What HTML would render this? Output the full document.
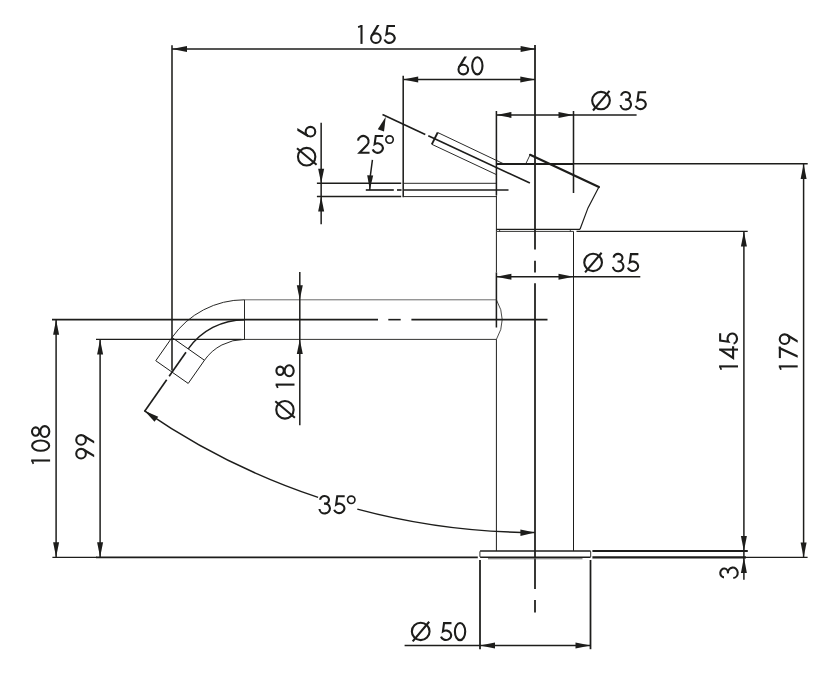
<!DOCTYPE html>
<html><head><meta charset="utf-8"><title>Drawing</title>
<style>
html,body{margin:0;padding:0;background:#fff;font-family:"Liberation Sans",sans-serif;}
svg{display:block;}
</style></head>
<body>
<svg width="822" height="678" viewBox="0 0 822 678">
<line x1="535" y1="45" x2="535" y2="249.6" stroke="#1d1d1b" stroke-width="1.76" stroke-linecap="butt"/>
<line x1="535" y1="260.8" x2="535" y2="272.6" stroke="#1d1d1b" stroke-width="1.76" stroke-linecap="butt"/>
<line x1="535" y1="283.2" x2="535" y2="589" stroke="#1d1d1b" stroke-width="1.76" stroke-linecap="butt"/>
<line x1="535" y1="600.1" x2="535" y2="612.4" stroke="#1d1d1b" stroke-width="1.76" stroke-linecap="butt"/>
<line x1="172" y1="48.9" x2="535.6" y2="48.9" stroke="#1d1d1b" stroke-width="1.49" stroke-linecap="butt"/>
<polygon points="172,48.9 187,45.9 187,51.9" fill="#1d1d1b"/>
<polygon points="535.6,48.9 520.6,51.9 520.6,45.9" fill="#1d1d1b"/>
<line x1="172" y1="45.3" x2="172" y2="370.5" stroke="#1d1d1b" stroke-width="1.54" stroke-linecap="butt"/>
<line x1="403.2" y1="79.5" x2="535" y2="79.5" stroke="#1d1d1b" stroke-width="1.49" stroke-linecap="butt"/>
<polygon points="403.2,79.5 418.2,76.5 418.2,82.5" fill="#1d1d1b"/>
<polygon points="535.3,79.5 520.3,82.5 520.3,76.5" fill="#1d1d1b"/>
<line x1="403.2" y1="75.8" x2="403.2" y2="197.2" stroke="#1d1d1b" stroke-width="1.54" stroke-linecap="butt"/>
<line x1="496.4" y1="114.9" x2="636.6" y2="114.9" stroke="#1d1d1b" stroke-width="1.49" stroke-linecap="butt"/>
<polygon points="496.4,114.9 511.4,111.9 511.4,117.9" fill="#1d1d1b"/>
<polygon points="573.5,114.9 558.5,117.9 558.5,111.9" fill="#1d1d1b"/>
<line x1="573.5" y1="111" x2="573.5" y2="193" stroke="#1d1d1b" stroke-width="1.54" stroke-linecap="butt"/>
<line x1="496.4" y1="111" x2="496.4" y2="195.4" stroke="#1d1d1b" stroke-width="1.54" stroke-linecap="butt"/>
<line x1="496.4" y1="195.4" x2="496.4" y2="231.3" stroke="#1d1d1b" stroke-width="1" stroke-linecap="butt"/>
<line x1="496.4" y1="164" x2="573.5" y2="164" stroke="#1d1d1b" stroke-width="1.87" stroke-linecap="butt"/>
<line x1="573.5" y1="163.8" x2="807.7" y2="163.8" stroke="#1d1d1b" stroke-width="1.49" stroke-linecap="butt"/>
<line x1="530.1" y1="154.8" x2="598.9" y2="187" stroke="#1d1d1b" stroke-width="2.2" stroke-linecap="round"/>
<line x1="525.7" y1="164" x2="530.1" y2="154.8" stroke="#1d1d1b" stroke-width="0.9" stroke-linecap="butt"/>
<path d="M598.9,187 L588,207.9 L580,229.3" fill="none" stroke="#1d1d1b" stroke-width="1.19"/>
<line x1="496.4" y1="229.3" x2="580" y2="229.3" stroke="#1d1d1b" stroke-width="1.32" stroke-linecap="butt"/>
<line x1="496.4" y1="231.4" x2="573.5" y2="231.4" stroke="#1d1d1b" stroke-width="0.9" stroke-linecap="butt"/>
<line x1="576.5" y1="231.4" x2="747.7" y2="231.4" stroke="#1d1d1b" stroke-width="1.43" stroke-linecap="butt"/>
<line x1="382.5" y1="114.45" x2="425.29" y2="134.38" stroke="#1d1d1b" stroke-width="1.65" stroke-linecap="butt"/>
<line x1="428.28" y1="135.77" x2="529.9" y2="183.1" stroke="#1d1d1b" stroke-width="1.65" stroke-linecap="butt"/>
<line x1="437.7" y1="132.5" x2="431.8" y2="144.3" stroke="#1d1d1b" stroke-width="1.87" stroke-linecap="butt"/>
<line x1="437.7" y1="132.5" x2="504" y2="164" stroke="#1d1d1b" stroke-width="0.95" stroke-linecap="butt"/>
<line x1="431.8" y1="144.3" x2="496.4" y2="174.6" stroke="#1d1d1b" stroke-width="0.95" stroke-linecap="butt"/>
<line x1="404" y1="183.3" x2="496.4" y2="183.3" stroke="#1d1d1b" stroke-width="0.95" stroke-linecap="butt"/>
<line x1="404" y1="196.6" x2="496.4" y2="196.6" stroke="#1d1d1b" stroke-width="0.95" stroke-linecap="butt"/>
<line x1="365.8" y1="190" x2="393.8" y2="190" stroke="#1d1d1b" stroke-width="1.65" stroke-linecap="butt"/>
<line x1="397" y1="190" x2="401.5" y2="190" stroke="#1d1d1b" stroke-width="1.65" stroke-linecap="butt"/>
<line x1="404" y1="190" x2="508.5" y2="190" stroke="#1d1d1b" stroke-width="1.65" stroke-linecap="butt"/>
<line x1="321.15" y1="122.7" x2="321.15" y2="224.2" stroke="#1d1d1b" stroke-width="1.49" stroke-linecap="butt"/>
<polygon points="321.15,183.3 318.15,168.8 324.15,168.8" fill="#1d1d1b"/>
<polygon points="321.15,196.6 324.15,211.6 318.15,211.6" fill="#1d1d1b"/>
<line x1="316.9" y1="183.3" x2="401.2" y2="183.3" stroke="#1d1d1b" stroke-width="1.49" stroke-linecap="butt"/>
<line x1="316.9" y1="196.6" x2="401.2" y2="196.6" stroke="#1d1d1b" stroke-width="1.49" stroke-linecap="butt"/>
<path d="M369.8,190 A175.9,175.9 0 0 1 372.42,159.76" fill="none" stroke="#1d1d1b" stroke-width="1.49"/>
<polygon points="369.8,189.8 367.18,175.23 373.18,175.38" fill="#1d1d1b"/>
<polygon points="385.77,116.78 384.01,131.54 377.79,129.33" fill="#1d1d1b"/>
<line x1="496.4" y1="231.4" x2="496.4" y2="272.4" stroke="#1d1d1b" stroke-width="1" stroke-linecap="butt"/>
<line x1="496.4" y1="272.4" x2="496.4" y2="327.5" stroke="#1d1d1b" stroke-width="1.54" stroke-linecap="butt"/>
<line x1="496.4" y1="339.3" x2="496.4" y2="551" stroke="#1d1d1b" stroke-width="1" stroke-linecap="butt"/>
<line x1="573.5" y1="231.4" x2="573.5" y2="551" stroke="#1d1d1b" stroke-width="1" stroke-linecap="butt"/>
<line x1="496.4" y1="276.7" x2="640.3" y2="276.7" stroke="#1d1d1b" stroke-width="1.49" stroke-linecap="butt"/>
<polygon points="496.4,276.7 511.4,273.7 511.4,279.7" fill="#1d1d1b"/>
<polygon points="573.5,276.7 558.5,279.7 558.5,273.7" fill="#1d1d1b"/>
<line x1="244.5" y1="299.8" x2="496.4" y2="299.8" stroke="#444" stroke-width="0.8" stroke-linecap="butt"/>
<line x1="241.6" y1="339.4" x2="496.4" y2="339.4" stroke="#1d1d1b" stroke-width="0.9" stroke-linecap="butt"/>
<path d="M496.4,299.8 Q508,319.6 496.4,339.4" fill="none" stroke="#1d1d1b" stroke-width="0.8"/>
<line x1="244.5" y1="299.8" x2="244.5" y2="339.4" stroke="#1d1d1b" stroke-width="0.95" stroke-linecap="butt"/>
<line x1="52" y1="319.65" x2="378" y2="319.65" stroke="#1d1d1b" stroke-width="1.59" stroke-linecap="butt"/>
<line x1="388.3" y1="319.65" x2="400.7" y2="319.65" stroke="#1d1d1b" stroke-width="1.59" stroke-linecap="butt"/>
<line x1="411.4" y1="319.65" x2="547.5" y2="319.65" stroke="#1d1d1b" stroke-width="1.59" stroke-linecap="butt"/>
<line x1="96" y1="339.4" x2="241.6" y2="339.4" stroke="#1d1d1b" stroke-width="1.43" stroke-linecap="butt"/>
<line x1="299.8" y1="272" x2="299.8" y2="425.2" stroke="#1d1d1b" stroke-width="1.49" stroke-linecap="butt"/>
<polygon points="299.8,299.8 296.8,285.2 302.8,285.2" fill="#1d1d1b"/>
<polygon points="299.8,339.4 302.8,354 296.8,354" fill="#1d1d1b"/>
<path d="M244.5,299.8 A88.5,88.5 0 0 0 172.01,337.54" fill="none" stroke="#1d1d1b" stroke-width="0.95"/>
<path d="M244.5,319.65 A68.65,68.65 0 0 0 188.27,348.92" fill="none" stroke="#1d1d1b" stroke-width="1.49"/>
<path d="M244.5,339.4 A48.9,48.9 0 0 0 204.44,360.25" fill="none" stroke="#1d1d1b" stroke-width="0.95"/>
<path d="M172.01,337.54 L204.44,360.25 L188.21,383.43 L155.77,360.72 Z" fill="none" stroke="#1d1d1b" stroke-width="1"/>
<line x1="185.97" y1="352.2" x2="169.17" y2="376.2" stroke="#1d1d1b" stroke-width="1.65" stroke-linecap="butt"/>
<line x1="166.7" y1="379.72" x2="144.5" y2="411.43" stroke="#1d1d1b" stroke-width="1.65" stroke-linecap="butt"/>
<path d="M144.5,410.77 A687.2,687.2 0 0 0 318.1,497.37" fill="none" stroke="#1d1d1b" stroke-width="1.49"/>
<path d="M357.3,509.13 A687.2,687.2 0 0 0 535,532.5" fill="none" stroke="#1d1d1b" stroke-width="1.49"/>
<polygon points="535,532.5 520.46,535.95 520.35,529.56" fill="#1d1d1b"/>
<polygon points="144.5,410.77 158.24,416.67 154.51,421.87" fill="#1d1d1b"/>
<line x1="480.2" y1="551" x2="590.4" y2="551" stroke="#1d1d1b" stroke-width="1.59" stroke-linecap="butt"/>
<line x1="480.2" y1="557.2" x2="590.4" y2="557.2" stroke="#1d1d1b" stroke-width="1.59" stroke-linecap="butt"/>
<path d="M480.6,551 Q479.9,551 479.9,551.8 L479.9,556.4 Q479.9,557.2 480.6,557.2" fill="none" stroke="#1d1d1b" stroke-width="0.9"/>
<path d="M590,551 Q590.7,551 590.7,551.8 L590.7,556.4 Q590.7,557.2 590,557.2" fill="none" stroke="#1d1d1b" stroke-width="0.9"/>
<line x1="499.6" y1="229.3" x2="499.6" y2="231.4" stroke="#1d1d1b" stroke-width="0.8" stroke-linecap="butt"/>
<line x1="570.3" y1="229.3" x2="570.3" y2="231.4" stroke="#1d1d1b" stroke-width="0.8" stroke-linecap="butt"/>
<line x1="488" y1="558.7" x2="582.5" y2="558.7" stroke="#666" stroke-width="1.1" stroke-linecap="butt"/>
<line x1="52.4" y1="557.4" x2="97" y2="557.4" stroke="#1d1d1b" stroke-width="1.38" stroke-linecap="butt"/>
<line x1="96" y1="557.4" x2="477.8" y2="557.4" stroke="#1d1d1b" stroke-width="1.87" stroke-linecap="butt"/>
<line x1="592.4" y1="551" x2="747.8" y2="551" stroke="#1d1d1b" stroke-width="1.76" stroke-linecap="butt"/>
<line x1="592.4" y1="557.4" x2="746" y2="557.4" stroke="#1d1d1b" stroke-width="2.2" stroke-linecap="butt"/>
<line x1="746" y1="557.4" x2="807.6" y2="557.4" stroke="#1d1d1b" stroke-width="1.43" stroke-linecap="butt"/>
<line x1="480" y1="560" x2="480" y2="649.2" stroke="#1d1d1b" stroke-width="1.76" stroke-linecap="butt"/>
<line x1="590.5" y1="560" x2="590.5" y2="649.2" stroke="#1d1d1b" stroke-width="1.76" stroke-linecap="butt"/>
<line x1="404.6" y1="645.5" x2="590.5" y2="645.5" stroke="#1d1d1b" stroke-width="1.49" stroke-linecap="butt"/>
<polygon points="480,645.5 495,642.5 495,648.5" fill="#1d1d1b"/>
<polygon points="590.5,645.5 575.5,648.5 575.5,642.5" fill="#1d1d1b"/>
<line x1="56.1" y1="319.65" x2="56.1" y2="557.3" stroke="#1d1d1b" stroke-width="1.49" stroke-linecap="butt"/>
<polygon points="56.1,319.65 59.1,334.65 53.1,334.65" fill="#1d1d1b"/>
<polygon points="56.1,557.3 53.1,542.3 59.1,542.3" fill="#1d1d1b"/>
<line x1="100.1" y1="339.4" x2="100.1" y2="557.3" stroke="#1d1d1b" stroke-width="1.49" stroke-linecap="butt"/>
<polygon points="100.1,339.4 103.1,354.4 97.1,354.4" fill="#1d1d1b"/>
<polygon points="100.1,557.3 97.1,542.3 103.1,542.3" fill="#1d1d1b"/>
<line x1="743.9" y1="231.4" x2="743.9" y2="579.7" stroke="#1d1d1b" stroke-width="1.49" stroke-linecap="butt"/>
<polygon points="743.9,231.4 746.9,246.4 740.9,246.4" fill="#1d1d1b"/>
<polygon points="743.9,551 740.9,536 746.9,536" fill="#1d1d1b"/>
<polygon points="743.9,557.4 746.9,572.9 740.9,572.9" fill="#1d1d1b"/>
<line x1="803.6" y1="164" x2="803.6" y2="557.4" stroke="#1d1d1b" stroke-width="1.49" stroke-linecap="butt"/>
<polygon points="803.6,164 806.6,179 800.6,179" fill="#1d1d1b"/>
<polygon points="803.6,557.4 800.6,542.4 806.6,542.4" fill="#1d1d1b"/>
<g transform="translate(357.3 43.9) rotate(0)" fill="none" stroke="#1d1d1b" stroke-width="2.1" stroke-linecap="butt">
<g transform="translate(0 0)"><path d="M0.8,-16.75 L4.2,-18.0" stroke-width="1.7"/><path d="M4.2,-18.9 L4.2,0"/></g>
<g transform="translate(12.8 0)"><polygon points="6.78,-18.9 9.42,-18.9 3.01,-8.22 0.36,-8.22" fill="#1d1d1b" stroke="none"/><circle cx="5.8" cy="-5.75" r="4.8"/></g>
<g transform="translate(26 0)"><path d="M11.7,-17.85 L4.25,-17.85 L3.15,-9.6 A5.2,4.75 0 1 1 1.2,-4.4" stroke-linejoin="miter"/></g>
</g>
<g transform="translate(457.5 75.3) rotate(0)" fill="none" stroke="#1d1d1b" stroke-width="2.1" stroke-linecap="butt">
<g transform="translate(0 0)"><polygon points="6.78,-18.9 9.42,-18.9 3.01,-8.22 0.36,-8.22" fill="#1d1d1b" stroke="none"/><circle cx="5.8" cy="-5.75" r="4.8"/></g>
<g transform="translate(13.7 0)"><ellipse cx="6.15" cy="-9.45" rx="5.15" ry="8.55"/></g>
</g>
<g transform="translate(591.1 110.1) rotate(0)" fill="none" stroke="#1d1d1b" stroke-width="2.1" stroke-linecap="butt">
<g transform="translate(0 0)"><ellipse cx="9.9" cy="-9.55" rx="8.85" ry="8.7"/><path d="M1.9,0.4 L18.4,-19.2"/></g>
<g transform="translate(28.7 0)"><path d="M1.45,-14.4 A4.4,3.85 0 1 1 5.4,-10.45 A5.25,4.9 0 1 1 0.75,-5.1" stroke-linejoin="miter"/></g>
<g transform="translate(43.3 0)"><path d="M11.7,-17.85 L4.25,-17.85 L3.15,-9.6 A5.2,4.75 0 1 1 1.2,-4.4" stroke-linejoin="miter"/></g>
</g>
<g transform="translate(583.2 272) rotate(0)" fill="none" stroke="#1d1d1b" stroke-width="2.1" stroke-linecap="butt">
<g transform="translate(0 0)"><ellipse cx="9.9" cy="-9.55" rx="8.85" ry="8.7"/><path d="M1.9,0.4 L18.4,-19.2"/></g>
<g transform="translate(29 0)"><path d="M1.45,-14.4 A4.4,3.85 0 1 1 5.4,-10.45 A5.25,4.9 0 1 1 0.75,-5.1" stroke-linejoin="miter"/></g>
<g transform="translate(43.5 0)"><path d="M11.7,-17.85 L4.25,-17.85 L3.15,-9.6 A5.2,4.75 0 1 1 1.2,-4.4" stroke-linejoin="miter"/></g>
</g>
<g transform="translate(410.8 641) rotate(0)" fill="none" stroke="#1d1d1b" stroke-width="2.1" stroke-linecap="butt">
<g transform="translate(0 0)"><ellipse cx="9.9" cy="-9.55" rx="8.85" ry="8.7"/><path d="M1.9,0.4 L18.4,-19.2"/></g>
<g transform="translate(29 0)"><path d="M11.7,-17.85 L4.25,-17.85 L3.15,-9.6 A5.2,4.75 0 1 1 1.2,-4.4" stroke-linejoin="miter"/></g>
<g transform="translate(43.1 0)"><ellipse cx="6.15" cy="-9.45" rx="5.15" ry="8.55"/></g>
</g>
<g transform="translate(357 153.8) rotate(0)" fill="none" stroke="#1d1d1b" stroke-width="2.1" stroke-linecap="butt">
<g transform="translate(0 0)"><path d="M1.03,-13.1 A5.3,5.3 0 1 1 10.11,-8.87 L2.55,-1.05 L12.55,-1.05" stroke-linejoin="miter"/></g>
<g transform="translate(14.5 0)"><path d="M11.7,-17.85 L4.25,-17.85 L3.15,-9.6 A5.2,4.75 0 1 1 1.2,-4.4" stroke-linejoin="miter"/></g>
<g transform="translate(28 0)"><circle cx="4.55" cy="-14.3" r="3.7" stroke-width="1.65"/></g>
</g>
<g transform="translate(318.7 514.1) rotate(0)" fill="none" stroke="#1d1d1b" stroke-width="2.1" stroke-linecap="butt">
<g transform="translate(0 0)"><path d="M1.45,-14.4 A4.4,3.85 0 1 1 5.4,-10.45 A5.25,4.9 0 1 1 0.75,-5.1" stroke-linejoin="miter"/></g>
<g transform="translate(14.3 0)"><path d="M11.7,-17.85 L4.25,-17.85 L3.15,-9.6 A5.2,4.75 0 1 1 1.2,-4.4" stroke-linejoin="miter"/></g>
<g transform="translate(28 0)"><circle cx="4.55" cy="-14.3" r="3.7" stroke-width="1.65"/></g>
</g>
<g transform="translate(316.2 166.6) rotate(-90)" fill="none" stroke="#1d1d1b" stroke-width="2.1" stroke-linecap="butt">
<g transform="translate(0 0)"><ellipse cx="9.9" cy="-9.55" rx="8.85" ry="8.7"/><path d="M1.9,0.4 L18.4,-19.2"/></g>
<g transform="translate(29.1 0)"><polygon points="6.78,-18.9 9.42,-18.9 3.01,-8.22 0.36,-8.22" fill="#1d1d1b" stroke="none"/><circle cx="5.8" cy="-5.75" r="4.8"/></g>
</g>
<g transform="translate(294.5 419.7) rotate(-90)" fill="none" stroke="#1d1d1b" stroke-width="2.1" stroke-linecap="butt">
<g transform="translate(0 0)"><ellipse cx="9.9" cy="-9.55" rx="8.85" ry="8.7"/><path d="M1.9,0.4 L18.4,-19.2"/></g>
<g transform="translate(30.9 0)"><path d="M0.8,-16.75 L4.2,-18.0" stroke-width="1.7"/><path d="M4.2,-18.9 L4.2,0"/></g>
<g transform="translate(42.5 0)"><ellipse cx="6.45" cy="-14.42" rx="4.15" ry="3.68"/><ellipse cx="6.45" cy="-5.32" rx="5.45" ry="4.52"/></g>
</g>
<g transform="translate(50.1 464.7) rotate(-90)" fill="none" stroke="#1d1d1b" stroke-width="2.1" stroke-linecap="butt">
<g transform="translate(0 0)"><path d="M0.8,-16.75 L4.2,-18.0" stroke-width="1.7"/><path d="M4.2,-18.9 L4.2,0"/></g>
<g transform="translate(12.9 0)"><ellipse cx="6.15" cy="-9.45" rx="5.15" ry="8.55"/></g>
<g transform="translate(26.7 0)"><ellipse cx="6.45" cy="-14.42" rx="4.15" ry="3.68"/><ellipse cx="6.45" cy="-5.32" rx="5.45" ry="4.52"/></g>
</g>
<g transform="translate(94.2 459.5) rotate(-90)" fill="none" stroke="#1d1d1b" stroke-width="2.1" stroke-linecap="butt">
<g transform="translate(0 0)"><g transform="rotate(180 5.8 -9.45)"><polygon points="6.78,-18.9 9.42,-18.9 3.01,-8.22 0.36,-8.22" fill="#1d1d1b" stroke="none"/><circle cx="5.8" cy="-5.75" r="4.8"/></g></g>
<g transform="translate(13.8 0)"><g transform="rotate(180 5.8 -9.45)"><polygon points="6.78,-18.9 9.42,-18.9 3.01,-8.22 0.36,-8.22" fill="#1d1d1b" stroke="none"/><circle cx="5.8" cy="-5.75" r="4.8"/></g></g>
</g>
<g transform="translate(738 370.6) rotate(-90)" fill="none" stroke="#1d1d1b" stroke-width="2.1" stroke-linecap="butt">
<g transform="translate(0 0)"><path d="M0.8,-16.75 L4.2,-18.0" stroke-width="1.7"/><path d="M4.2,-18.9 L4.2,0"/></g>
<g transform="translate(11.1 0)"><path d="M9.9,-18.9 L9.9,0"/><path d="M9.9,-17.6 L1.5,-4.9 L13.3,-4.9" stroke-linejoin="miter"/></g>
<g transform="translate(25.7 0)"><path d="M11.7,-17.85 L4.25,-17.85 L3.15,-9.6 A5.2,4.75 0 1 1 1.2,-4.4" stroke-linejoin="miter"/></g>
</g>
<g transform="translate(797.7 370.6) rotate(-90)" fill="none" stroke="#1d1d1b" stroke-width="2.1" stroke-linecap="butt">
<g transform="translate(0 0)"><path d="M0.8,-16.75 L4.2,-18.0" stroke-width="1.7"/><path d="M4.2,-18.9 L4.2,0"/></g>
<g transform="translate(12.5 0)"><path d="M0,-17.85 L11.5,-17.85"/><polygon points="9.18,-18.9 11.62,-18.9 2.82,0 0.38,0" fill="#1d1d1b" stroke="none"/></g>
<g transform="translate(25.6 0)"><g transform="rotate(180 5.8 -9.45)"><polygon points="6.78,-18.9 9.42,-18.9 3.01,-8.22 0.36,-8.22" fill="#1d1d1b" stroke="none"/><circle cx="5.8" cy="-5.75" r="4.8"/></g></g>
</g>
<g transform="translate(738.4 578.8) rotate(-90)" fill="none" stroke="#1d1d1b" stroke-width="2.1" stroke-linecap="butt">
<g transform="translate(0 0)"><path d="M1.45,-14.4 A4.4,3.85 0 1 1 5.4,-10.45 A5.25,4.9 0 1 1 0.75,-5.1" stroke-linejoin="miter"/></g>
</g>
</svg>
</body></html>
